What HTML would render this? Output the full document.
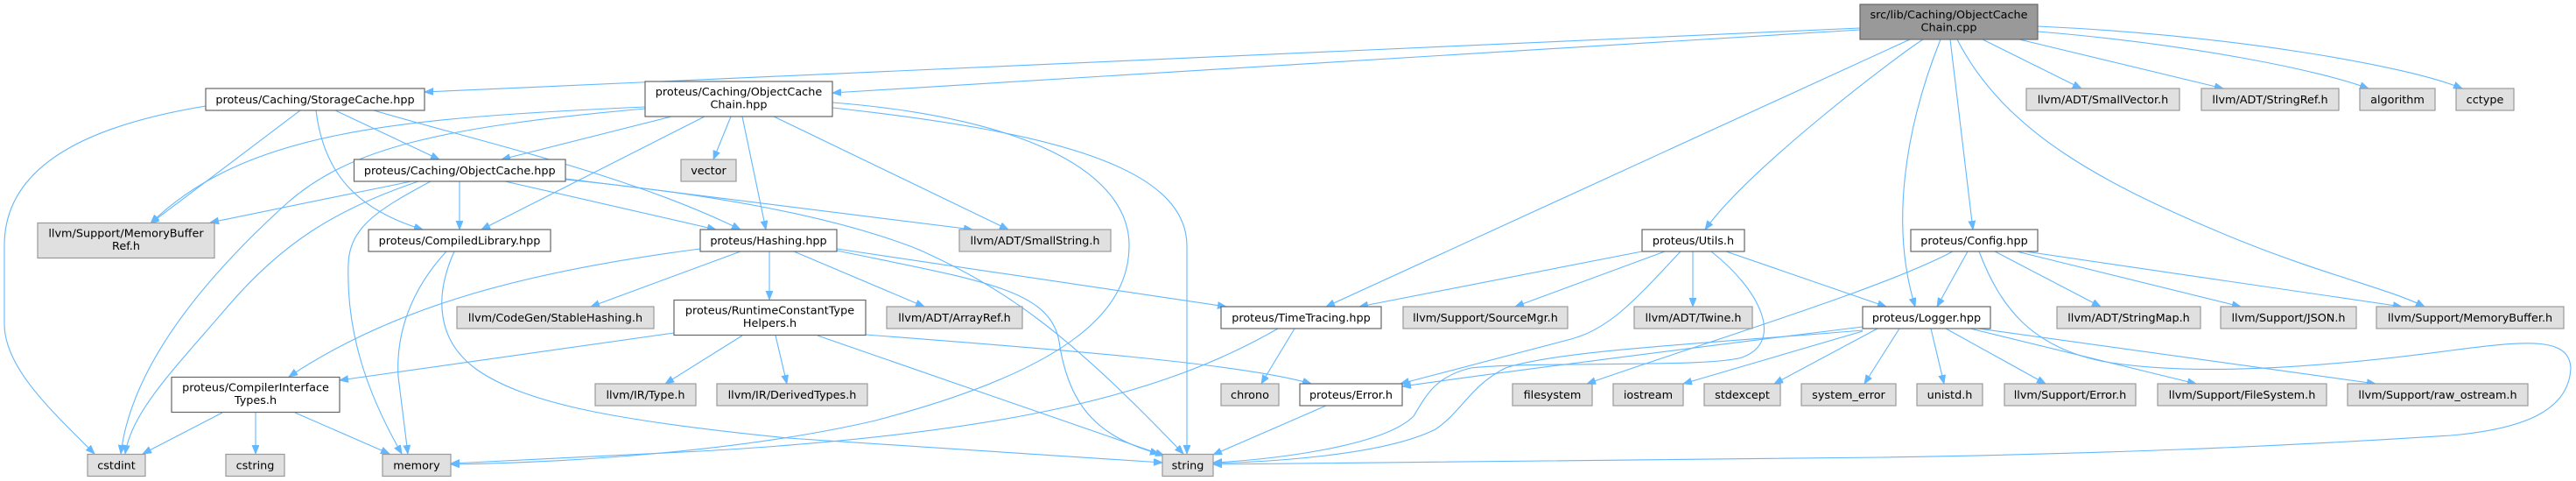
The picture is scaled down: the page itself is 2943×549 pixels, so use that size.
<!DOCTYPE html>
<html>
<head>
<meta charset="utf-8">
<style>
html,body{margin:0;padding:0;background:#fff;}
svg{display:block;}
text{font-family:"DejaVu Sans","Liberation Sans",sans-serif;font-size:12.8px;fill:#000;text-anchor:middle;}
.e{fill:none;stroke:#63b8ff;stroke-width:1.1;marker-end:url(#ah);}
.w{fill:#fff;stroke:#666;stroke-width:1.2;}
.g{fill:#e0e0e0;stroke:#999;stroke-width:1.2;}
.r{fill:#999;stroke:#666;stroke-width:1.2;}
</style>
</head>
<body>
<svg width="2943" height="549" viewBox="0 0 2943 549" xmlns="http://www.w3.org/2000/svg">
<defs>
<marker id="ah" markerWidth="11" markerHeight="9" refX="10" refY="4" orient="auto" markerUnits="userSpaceOnUse">
<path d="M0,0 L10,4 L0,8 z" fill="#63b8ff" stroke="#63b8ff" stroke-width="0.8"/>
</marker>
</defs>

<!-- root edges -->
<path class="e" d="M2125,32 L485,105"/>
<path class="e" d="M2125,34 L951,106"/>
<path class="e" d="M2182,45 L1515,350"/>
<path class="e" d="M2197,45 C2170,62 2000,190 1948,262"/>
<path class="e" d="M2217,45 C2175,150 2160,260 2188,350"/>
<path class="e" d="M2228,45 L2254,262"/>
<path class="e" d="M2236,45 C2290,150 2400,210 2560,275 C2660,315 2730,330 2770,350"/>
<path class="e" d="M2265,45 L2378,101"/>
<path class="e" d="M2307,45 L2540,101"/>
<path class="e" d="M2328,36 C2500,50 2650,80 2706,101"/>
<path class="e" d="M2328,30 C2550,40 2750,75 2813,101"/>

<!-- ObjectCacheChain.hpp edges -->
<path class="e" d="M737,122 C450,135 280,150 172,255"/>
<path class="e" d="M737,124 C500,145 400,170 330,230 C230,320 150,420 138,518"/>
<path class="e" d="M767,133 L573,182"/>
<path class="e" d="M805,133 L550,262"/>
<path class="e" d="M835,133 L815,182"/>
<path class="e" d="M848,133 L875,262"/>
<path class="e" d="M884,133 L1152,262"/>
<path class="e" d="M951,117 C1180,135 1290,200 1290,280 C1290,350 1230,420 1000,480 C850,515 650,528 515,530"/>
<path class="e" d="M951,123 C1200,150 1355,190 1356,280 L1356,518"/>

<!-- StorageCache edges -->
<path class="e" d="M235,121 C120,140 5,180 5,280 L5,370 C5,420 60,470 108,518"/>
<path class="e" d="M343,126 L172,255"/>
<path class="e" d="M361,126 C370,200 410,240 483,262"/>
<path class="e" d="M383,126 L502,182"/>
<path class="e" d="M427,126 C560,165 720,200 846,262"/>

<!-- ObjectCache.hpp edges -->
<path class="e" d="M470,207 L240,254"/>
<path class="e" d="M478,207 C380,240 320,280 260,350 C200,420 150,470 143,518"/>
<path class="e" d="M492,207 C430,240 400,260 398,300 C395,380 420,450 459,518"/>
<path class="e" d="M525,207 L525,262"/>
<path class="e" d="M577,207 L818,262"/>
<path class="e" d="M646,204 L1111,262"/>
<path class="e" d="M646,205 C800,220 950,245 1050,285 C1150,330 1220,380 1352,518"/>

<!-- CompiledLibrary edges -->
<path class="e" d="M510,287 C470,330 452,380 455,430 L466,518"/>
<path class="e" d="M519,287 C495,340 500,390 545,422 C600,460 700,480 900,500 L1328,528"/>

<!-- Hashing edges -->
<path class="e" d="M800,284 C600,310 450,350 330,430"/>
<path class="e" d="M846,287 L675,350"/>
<path class="e" d="M879,287 L879,342"/>
<path class="e" d="M907,287 L1056,350"/>
<path class="e" d="M956,284 L1401,350"/>
<path class="e" d="M956,286 C1120,320 1200,330 1210,390 C1222,470 1260,500 1324,518"/>

<!-- RuntimeConstantTypeHelpers edges -->
<path class="e" d="M770,380 L388,434"/>
<path class="e" d="M848,383 L760,438"/>
<path class="e" d="M886,383 L899,438"/>
<path class="e" d="M934,383 L1330,520"/>
<path class="e" d="M989,382 C1200,398 1420,415 1498,438"/>

<!-- CompilerInterfaceTypes edges -->
<path class="e" d="M254,471 L163,518"/>
<path class="e" d="M292,471 L292,518"/>
<path class="e" d="M337,471 L445,518"/>

<!-- TimeTracing edges -->
<path class="e" d="M1479,375 L1441,438"/>
<path class="e" d="M1460,375 C1330,450 1150,495 800,515 L515,529"/>

<!-- Error.h edges -->
<path class="e" d="M1515,463 L1386,519"/>

<!-- Utils edges -->
<path class="e" d="M1876,287 L1553,350"/>
<path class="e" d="M1902,287 L1731,350"/>
<path class="e" d="M1920,287 C1870,340 1840,375 1795,387 L1600,438"/>
<path class="e" d="M1934,287 L1934,350"/>
<path class="e" d="M1955,287 C2010,330 2040,390 1990,408 C1950,420 1750,412 1680,420 C1640,430 1630,450 1615,475 C1580,510 1450,525 1386,528"/>
<path class="e" d="M1972,287 L2155,350"/>

<!-- Config edges -->
<path class="e" d="M2231,287 C2150,330 1950,390 1813,438"/>
<path class="e" d="M2248,287 L2213,350"/>
<path class="e" d="M2261,287 C2285,350 2320,395 2400,412 C2500,430 2650,420 2800,400 C2890,388 2935,385 2937,420 C2935,470 2880,490 2800,497 C2600,510 2400,518 2150,522 L1386,530"/>
<path class="e" d="M2279,287 L2400,350"/>
<path class="e" d="M2304,287 L2560,350"/>
<path class="e" d="M2307,286 L2744,350"/>

<!-- Logger edges -->
<path class="e" d="M2128,373 C1950,395 1750,420 1602,441"/>
<path class="e" d="M2128,377 C1950,392 1780,400 1720,420 C1680,440 1670,470 1640,490 C1580,520 1450,527 1386,529"/>
<path class="e" d="M2128,378 L1923,438"/>
<path class="e" d="M2145,375 L2027,438"/>
<path class="e" d="M2170,375 L2130,438"/>
<path class="e" d="M2206,375 L2221,438"/>
<path class="e" d="M2223,375 L2337,438"/>
<path class="e" d="M2251,375 L2509,438"/>
<path class="e" d="M2253,374 L2714,438"/>

<!-- nodes -->
<rect class="r" x="2125" y="5" width="203" height="40"/>
<text x="2226.5" y="21">src/lib/Caching/ObjectCache</text>
<text x="2226.5" y="35.5">Chain.cpp</text>

<rect class="w" x="235" y="101" width="250" height="25"/>
<text x="360" y="117.8">proteus/Caching/StorageCache.hpp</text>

<rect class="w" x="737" y="93" width="214" height="40"/>
<text x="844" y="109">proteus/Caching/ObjectCache</text>
<text x="844" y="123.5">Chain.hpp</text>

<rect class="w" x="404.5" y="182" width="241.5" height="25"/>
<text x="525.25" y="198.8">proteus/Caching/ObjectCache.hpp</text>

<rect class="g" x="43" y="254.5" width="202" height="40"/>
<text x="144" y="270.5">llvm/Support/MemoryBuffer</text>
<text x="144" y="285">Ref.h</text>

<rect class="w" x="421" y="262" width="208" height="25"/>
<text x="525" y="278.8">proteus/CompiledLibrary.hpp</text>

<rect class="g" x="778" y="182" width="63" height="25"/>
<text x="809.5" y="198.8">vector</text>

<rect class="w" x="800" y="262" width="156" height="25"/>
<text x="878" y="278.8">proteus/Hashing.hpp</text>

<rect class="g" x="1096" y="262" width="173" height="25"/>
<text x="1182.5" y="278.8">llvm/ADT/SmallString.h</text>

<rect class="g" x="522" y="350" width="225" height="25"/>
<text x="634.5" y="366.8">llvm/CodeGen/StableHashing.h</text>

<rect class="w" x="770" y="342.5" width="219" height="40"/>
<text x="879.5" y="358.5">proteus/RuntimeConstantType</text>
<text x="879.5" y="373">Helpers.h</text>

<rect class="g" x="1013" y="350" width="155" height="25"/>
<text x="1090.5" y="366.8">llvm/ADT/ArrayRef.h</text>

<rect class="w" x="1395" y="350" width="183" height="25"/>
<text x="1486.5" y="366.8">proteus/TimeTracing.hpp</text>

<rect class="g" x="1603" y="350" width="188" height="25"/>
<text x="1697" y="366.8">llvm/Support/SourceMgr.h</text>

<rect class="g" x="1867" y="350" width="135" height="25"/>
<text x="1934.5" y="366.8">llvm/ADT/Twine.h</text>

<rect class="w" x="2128" y="350" width="146" height="25"/>
<text x="2201" y="366.8">proteus/Logger.hpp</text>

<rect class="g" x="2350" y="350" width="164" height="25"/>
<text x="2432" y="366.8">llvm/ADT/StringMap.h</text>

<rect class="g" x="2537" y="350" width="155" height="25"/>
<text x="2614.5" y="366.8">llvm/Support/JSON.h</text>

<rect class="g" x="2715" y="350" width="214" height="25"/>
<text x="2822" y="366.8">llvm/Support/MemoryBuffer.h</text>

<rect class="w" x="1876" y="262" width="117" height="25"/>
<text x="1934.5" y="278.8">proteus/Utils.h</text>

<rect class="w" x="2183" y="262" width="145" height="25"/>
<text x="2255.5" y="278.8">proteus/Config.hpp</text>

<rect class="g" x="2315" y="101" width="175" height="25"/>
<text x="2402.5" y="117.8">llvm/ADT/SmallVector.h</text>

<rect class="g" x="2515" y="101" width="157" height="25"/>
<text x="2593.5" y="117.8">llvm/ADT/StringRef.h</text>

<rect class="g" x="2696" y="101" width="86" height="25"/>
<text x="2739" y="117.8">algorithm</text>

<rect class="g" x="2806" y="101" width="66" height="25"/>
<text x="2839" y="117.8">cctype</text>

<rect class="w" x="196" y="430.5" width="192" height="40"/>
<text x="292" y="446.5">proteus/CompilerInterface</text>
<text x="292" y="461">Types.h</text>

<rect class="g" x="680" y="438" width="115" height="25"/>
<text x="737.5" y="454.8">llvm/IR/Type.h</text>

<rect class="g" x="819" y="438" width="172" height="25"/>
<text x="905" y="454.8">llvm/IR/DerivedTypes.h</text>

<rect class="g" x="1395" y="438" width="66" height="25"/>
<text x="1428" y="454.8">chrono</text>

<rect class="w" x="1485" y="438" width="117" height="25"/>
<text x="1543.5" y="454.8">proteus/Error.h</text>

<rect class="g" x="1728" y="438" width="91" height="25"/>
<text x="1773.5" y="454.8">filesystem</text>

<rect class="g" x="1843" y="438" width="80" height="25"/>
<text x="1883" y="454.8">iostream</text>

<rect class="g" x="1947" y="438" width="87" height="25"/>
<text x="1990.5" y="454.8">stdexcept</text>

<rect class="g" x="2058" y="438" width="108" height="25"/>
<text x="2112" y="454.8">system_error</text>

<rect class="g" x="2190" y="438" width="75" height="25"/>
<text x="2227.5" y="454.8">unistd.h</text>

<rect class="g" x="2290" y="438" width="150" height="25"/>
<text x="2365" y="454.8">llvm/Support/Error.h</text>

<rect class="g" x="2465" y="438" width="193" height="25"/>
<text x="2561.5" y="454.8">llvm/Support/FileSystem.h</text>

<rect class="g" x="2682" y="438" width="206" height="25"/>
<text x="2785" y="454.8">llvm/Support/raw_ostream.h</text>

<rect class="g" x="100" y="518.5" width="66" height="25"/>
<text x="133" y="535.3">cstdint</text>

<rect class="g" x="258" y="518.5" width="67" height="25"/>
<text x="291.5" y="535.3">cstring</text>

<rect class="g" x="437" y="518.5" width="78" height="25"/>
<text x="476" y="535.3">memory</text>

<rect class="g" x="1328" y="518.5" width="58" height="25"/>
<text x="1357" y="535.3">string</text>
</svg>
</body>
</html>
